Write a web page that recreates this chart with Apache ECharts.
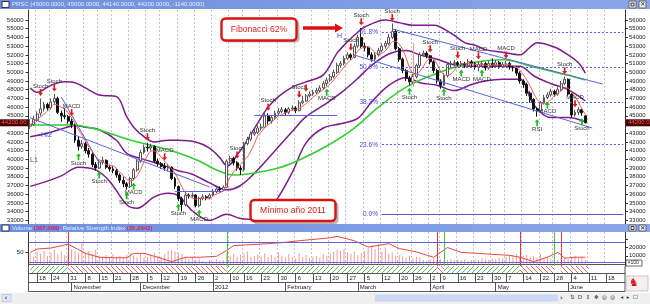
<!DOCTYPE html>
<html><head><meta charset="utf-8">
<script src="https://cdn.jsdelivr.net/npm/echarts@6/dist/echarts.min.js"></script>
<style>html,body{margin:0;padding:0;background:#fff}#c{width:650px;height:304px}</style>
</head><body><div id="c"></div>
<script>
// ---------- calendar ----------
const firstDay = '2011-10-13';
const totalSlots = 173;
const holidays = ['2011-10-17','2011-11-07','2011-11-14','2011-12-08','2012-01-09','2012-03-19','2012-04-05','2012-04-06','2012-05-01','2012-05-21'];
const tickDates = ['2011-10-18','2011-10-24','2011-10-31','2011-11-08','2011-11-15','2011-11-21','2011-11-28','2011-12-05','2011-12-12','2011-12-19','2011-12-26','2012-01-02','2012-01-10','2012-01-16','2012-01-23','2012-01-30','2012-02-06','2012-02-13','2012-02-20','2012-02-27','2012-03-05','2012-03-12','2012-03-20','2012-03-26','2012-04-02','2012-04-09','2012-04-16','2012-04-23','2012-04-30','2012-05-07','2012-05-14','2012-05-22','2012-05-28','2012-06-04','2012-06-11','2012-06-18'];
const monthTicks = [['2011-11-01','November'],['2011-12-01','December'],['2012-01-02','2012'],['2012-02-01','February'],['2012-03-01','March'],['2012-04-02','April'],['2012-05-02','May'],['2012-06-01','June']];

// ---------- price data [open, close, low, high] ----------
const candles = [
[43800,44000,43500,44600],[44000,44600,43900,45000],[44500,45200,44300,45500],[45300,45800,45000,47000],[45800,46300,45500,46600],
[46300,45900,45600,46500],[45900,46600,45700,47000],[46600,47000,46300,47500],[47000,45400,45200,47200],[45300,45000,44300,45600],
[45000,44900,44600,45900],[44900,44400,44100,45100],[44400,44000,43600,44700],[44000,42200,41900,44100],[42200,41500,41000,42600],
[41500,41800,41200,42200],[41800,41000,40700,42000],[41000,40600,40200,41300],[40600,39400,39100,40800],[39400,39000,38700,39700],
[39000,39700,38900,40000],[39700,39900,39400,40300],[39900,39100,38900,40000],[39100,38900,38600,39400],[38900,38700,38400,39200],
[38700,38200,37900,38900],[38200,37600,37300,38400],[37600,37200,36800,38000],[37200,36900,36500,37400],[36900,37800,36700,38000],
[37800,38800,37600,39000],[38800,39800,38600,40000],[39800,40800,39600,41100],[40800,41400,40600,41700],[41400,41300,40900,41900],
[41300,41500,41000,41800],[41500,39800,39600,41600],[39800,39500,39200,40100],[39500,39200,38900,39700],[39200,39000,38700,39600],
[39000,39100,38600,39500],[39100,37800,37600,39200],[37800,36900,36600,38000],[36900,35500,35200,37000],[35500,34800,34000,35700],
[34800,35900,34600,36300],[35900,35800,35500,36100],[35800,35900,35600,36200],[35900,34700,34500,36000],[34700,35500,34500,35700],
[35500,35700,35300,36000],[35700,35600,35300,35900],[35600,35900,35400,36100],[35900,36300,35800,36600],[36300,36600,36100,36800],
[36600,36500,36200,36900],[36500,36800,36400,37000],[36800,39800,36700,40000],[39800,40100,39500,40400],[40100,39600,39300,40300],
[39600,39000,38700,39800],[39000,38800,38200,39300],[38800,41800,38600,42000],[41800,42300,41600,42600],[42300,42900,42100,43200],
[42900,43100,42700,43500],[43100,43600,42900,43900],[43600,43700,43300,44100],[43700,45000,43600,45300],[45000,44400,44000,45300],
[44400,44800,44100,45100],[44800,45300,44600,45600],[45300,45500,45100,45900],[45500,45700,45300,46000],[45700,45400,45100,45900],
[45400,45800,45200,46000],[45800,45900,45600,46200],[45900,45600,45300,46100],[45600,46500,45500,46800],[46500,46700,46300,47300],
[46700,47300,46600,47500],[47300,47500,47100,47800],[47500,47700,47300,48000],[47700,47900,47500,48200],[47900,48200,47700,48500],
[48200,48700,48000,49000],[48700,49100,48400,49400],[49100,49500,48900,49800],[49500,50000,49300,50300],[50000,50800,49800,51100],
[50800,51000,50500,51300],[51000,51600,50800,51900],[51600,52000,51400,52300],[52000,51700,51400,52200],[51700,53000,51600,53300],
[53000,54000,52800,54300],[54000,53000,52800,55100],[53000,52800,52400,53400],[52800,52000,51700,53000],[52000,51500,51200,52300],
[51500,52000,51300,52300],[52000,52500,51800,52800],[52500,53000,52300,53300],[53000,53300,52700,53600],[53300,54000,53100,54400],
[54000,54700,53800,55600],[54700,52700,52500,54900],[52700,51500,51200,52900],[51500,50200,49900,51700],[50200,49300,49000,50400],
[49300,48900,48500,49600],[48900,49500,48700,49800],[49500,50800,49300,51000],[50800,52000,50600,52300],[52000,52200,51800,52500],
[52200,51900,51600,52400],[51900,51200,50900,52000],[51200,50200,49900,51400],[50200,49000,48700,50400],[49000,48500,48100,49200],
[48500,49600,48400,49900],[49600,50900,49400,51100],[50900,51000,50600,51300],[51000,51100,50700,51400],[51100,50900,50600,51300],
[50900,51000,50600,51300],[51000,50800,50500,51200],[50800,51200,50600,51500],[51200,51000,50700,51400],[51000,50600,50300,51200],
[50600,50900,50100,51200],[50900,51000,50600,51300],[51000,50500,50200,51200],[50500,51000,50300,51300],[51000,50800,50500,51600],
[50800,51100,50600,51400],[51100,50700,50400,51300],[50700,50900,50500,51200],[50900,51000,50600,51300],[51000,50600,50300,51200],
[50600,50500,50100,50800],[50500,49900,49600,50700],[49900,49000,48700,50100],[49000,48600,48200,49200],[48600,47600,47300,48800],
[47600,46900,46500,47800],[46900,45800,45500,47000],[45800,45600,44900,46000],[45600,46500,45400,46700],[46500,47100,46300,47400],
[47100,47400,46900,47700],[47400,47800,47200,48100],[47800,47500,47200,48000],[47500,48000,47300,48300],[48000,48700,47800,49000],
[48700,49200,48500,49500],[49200,47500,47300,49300],[47500,45100,44800,47600],[45100,45400,44900,45700],[45400,45700,45100,46000],
[45700,45340,45000,45800],[45000,44200,44140,45000]
];

// Bollinger bands (read at sample days) [dayIndex, value]
const ubPts = [[0,48200],[2,47700],[6,48500],[10,48900],[13,48800],[16,48200],[20,47400],[25,47200],[28,44900],[30,43700],[33,42600],[36,42000],[40,42200],[43,42200],[48,42000],[52,41300],[55,40200],[57,39300],[58,39400],[60,40500],[63,42200],[66,44200],[69,46000],[72,47200],[76,48300],[80,48900],[85,49700],[89,52200],[92,53500],[95,54600],[97,55200],[103,56000],[107,55700],[111,55400],[117,55400],[122,54500],[126,53400],[129,53100],[132,52600],[137,52300],[142,52000],[145,52900],[147,53400],[152,52900],[156,52000],[159,51100],[161,49900]];
const mbPts = [[0,42600],[5,43000],[10,43600],[13,43900],[16,43700],[20,43400],[25,42200],[28,40700],[33,40000],[38,39400],[43,38700],[47,38300],[52,37300],[57,36500],[61,37000],[66,38800],[71,41000],[76,43200],[80,44900],[85,46200],[90,47600],[95,49300],[99,50800],[104,52100],[109,52500],[113,52000],[118,51500],[123,50850],[128,50700],[132,50700],[137,50700],[142,50700],[146,49600],[151,48700],[156,48000],[161,46700]];
const lbPts = [[0,36900],[5,37500],[9,38100],[14,39100],[19,38800],[23,37500],[28,34800],[31,34400],[36,35700],[40,36100],[43,35800],[47,34100],[52,33000],[57,33700],[61,33200],[66,33100],[71,35100],[76,38500],[80,41900],[85,43600],[90,44100],[95,44700],[99,46600],[104,48500],[109,49400],[113,48800],[118,48500],[123,47900],[128,48600],[132,49000],[137,49200],[142,49200],[146,46300],[151,44800],[156,44800],[161,44300]];
const ma50Pts = [[0,43950],[12,43950],[20,43370],[29,42220],[38,41310],[43,40730],[49,39810],[54,38780],[59,38200],[65,38440],[72,39010],[78,39930],[86,41530],[94,43600],[101,46000],[109,48300],[118,49900],[128,51080],[137,51430],[146,50610],[156,49650],[161,49110]];

// signals
const sellSignals = [[3,'Stoch'],[7,'Stoch'],[12,'MACD'],[34,'Stoch'],[39,'MACD'],[60,'Stoch'],[69,'Stoch'],[78,'Stoch'],[80,''],[93,'Stoch'],[96,'Stoch'],[105,'Stoch'],[116,'Stoch'],[124,'Stoch'],[130,'MACD'],[138,'MACD'],[155,'Stoch'],[158,'MACD']];
const buySignals = [[14,'Stoch'],[20,'Stoch'],[28,'Stoch'],[30,'MACD'],[43,'Stoch'],[49,'MACD'],[86,'MACD'],[110,'Stoch'],[120,'Stoch'],[125,'MACD'],[131,'MACD'],[147,'RSI'],[150,'MACD'],[160,'Stoch']];

// drawn trend lines [[day, value],[day, value]]
const trendLines = [[[0,44770],[52,36830]],[[9,47160],[20,39590]],[[42,36300],[56,36300]],[[65,45100],[89,45100]],[[105,54970],[166,48650]],[[94,51980],[163,43600]]];
const markerLine = [[111,53360],[111,48300]];
// Fibonacci levels
const fibLevels = [[54590,'61.8%'],[50600,'50.0%'],[46610,'38.2%'],[41680,'23.6%'],[33730,'0.0%']];
const fibRange = [102,172];

// volume (x100) and RSI
const volume = [13000,9000,15000,12000,16000,10000,14000,17000,12000,15000,
11000,12000,18000,15000,13000,25000,14000,16000,12000,17000,
10000,9000,11000,8000,12000,9000,10000,8000,11000,13000,
10000,9000,12000,8000,9000,11000,14000,10000,9000,12000,
16000,17000,15000,13000,12000,8000,6000,9000,5000,7000,
4000,3000,5000,3000,6000,4000,5000,14000,10000,12000,
9000,11000,13000,15000,9000,10000,12000,9000,13000,8000,
11000,9000,14000,10000,8000,12000,9000,7000,13000,9000,
11000,7000,9000,10000,8000,12000,10000,13000,15000,17000,
16000,18000,14000,12000,15000,11000,13000,16000,19000,22000,
18000,24000,15000,20000,12000,14000,10000,11000,9000,8000,
10000,7000,9000,8000,5000,4000,6000,7000,5000,6000,
4000,5000,6000,5000,6000,5000,6000,4000,5000,6000,
5000,7000,6000,5000,7000,6000,8000,7000,9000,10000,
11000,12000,9000,10000,11000,9000,10000,8000,12000,7000,
9000,6000,8000,5000,7000,9000,6000,8000,10000,7000,
9000,6000];
const rsiPts = [[0,50],[2,57],[6,59],[11,67],[16,48],[20,40],[24,39],[28,39],[30,48],[33,48],[37,40],[41,31],[45,40],[49,40],[54,42],[57,54],[59,64],[64,66],[69,68],[73,70],[78,74],[87,80],[89,83],[94,74],[98,61],[104,68],[107,58],[112,51],[117,40],[121,60],[125,50],[130,48],[134,46],[139,44],[142,40],[146,31],[150,40],[153,50],[155,38],[158,40],[161,40]];
const rsiBands = [70,30];
const trendZones = [[0,11,'up'],[11,57,'down'],[57,118,'up'],[118,120,'down'],[120,142,'up'],[142,152,'down'],[154,162,'down']];
const signalLines = [[11,'down'],[57,'up'],[118,'down'],[120,'up'],[142,'down'],[152,'up'],[154,'down']];

const priceTicks = [33000,34000,35000,36000,37000,38000,39000,40000,41000,42000,43000,44000,45000,46000,47000,48000,49000,50000,51000,52000,53000,54000,55000,56000];

// ---------- build ----------
const hol = new Set(holidays);
const cats = [];
{ let d = new Date(firstDay + 'T00:00:00Z');
  while (cats.length < totalSlots) {
    const wd = d.getUTCDay(); const s = d.toISOString().slice(0,10);
    if (wd !== 0 && wd !== 6 && !hol.has(s)) cats.push(s);
    d.setUTCDate(d.getUTCDate() + 1);
  } }
const tickSet = new Set(tickDates.map(d => cats.indexOf(d)));
const monthMap = new Map(monthTicks.map(m => [cats.indexOf(m[0]), m[1]]));
const closes = candles.map(c => c[1]);
const ma5 = closes.map((c, i) => { const s = closes.slice(Math.max(0, i - 4), i + 1); return Math.round(s.reduce((a, b) => a + b, 0) / s.length); });
const lastClose = closes[closes.length - 1];
const plain = (v) => String(v);

function hatch(color, dir) {
  const c = document.createElement('canvas'); c.width = 5; c.height = 5;
  const g = c.getContext('2d'); g.fillStyle = '#fff'; g.fillRect(0, 0, 5, 5);
  g.strokeStyle = color; g.lineWidth = 1; g.beginPath();
  if (dir > 0) { g.moveTo(-1, 6); g.lineTo(6, -1); g.moveTo(-3, 3); g.lineTo(3, -3); g.moveTo(2, 8); g.lineTo(8, 2); }
  else { g.moveTo(-1, -1); g.lineTo(6, 6); g.moveTo(-3, 2); g.lineTo(3, 8); g.moveTo(2, -3); g.lineTo(8, 3); }
  g.stroke(); return c;
}
const upPat = { image: hatch('#58c058', 1), repeat: 'repeat' };
const dnPat = { image: hatch('#e06a6a', -1), repeat: 'repeat' };

const FONT = 'Liberation Sans';
const L = 28.5, R = 25;
const splitDash = { show: true, interval: (i) => tickSet.has(i), lineStyle: { color: '#c4c4c4', type: [2, 2], width: 1 } };

const upArrow = 'path://M3,0 L6,4 L4,4 L4,9 L2,9 L2,4 L0,4 Z';
const dnArrow = 'path://M2,0 L4,0 L4,5 L6,5 L3,9 L0,5 L2,5 Z';

const option = {
  animation: false,
  backgroundColor: '#ffffff',
  textStyle: { fontFamily: FONT },
  grid: [
    { left: L, right: R, top: 10, height: 214 },
    { left: L, right: R, top: 232, height: 34 },
    { left: L, right: R, top: 266, height: 7 }
  ],
  xAxis: [
    { gridIndex: 0, type: 'category', data: cats, boundaryGap: true, axisLine: { show: false }, axisTick: { show: false }, axisLabel: { show: false }, splitLine: splitDash },
    { gridIndex: 1, type: 'category', data: cats, boundaryGap: true, axisLine: { show: true, lineStyle: { color: '#555' } }, axisTick: { show: false }, axisLabel: { show: false }, splitLine: splitDash },
    { gridIndex: 2, type: 'category', data: cats, boundaryGap: true, position: 'bottom',
      axisLine: { show: true, lineStyle: { color: '#555' } },
      axisTick: { show: true, interval: (i) => tickSet.has(i), alignWithLabel: true, length: 9, lineStyle: { color: '#555' } },
      axisLabel: { show: true, interval: (i) => tickSet.has(i), formatter: (v) => String(+v.slice(8)), fontSize: 6, color: '#222', align: 'left', margin: 2, padding: [0, 0, 0, 2], fontFamily: FONT },
      splitLine: { show: false } },
    { gridIndex: 2, type: 'category', data: cats, boundaryGap: true, position: 'bottom', offset: 9,
      axisLine: { show: true, lineStyle: { color: '#555' } },
      axisTick: { show: true, interval: (i) => monthMap.has(i), alignWithLabel: true, length: 9, lineStyle: { color: '#555' } },
      axisLabel: { show: true, interval: (i) => monthMap.has(i), formatter: (v) => monthMap.get(cats.indexOf(v)) || '', fontSize: 6, color: '#222', align: 'left', margin: 2, padding: [0, 0, 0, 2], fontFamily: FONT },
      splitLine: { show: false } }
  ],
  yAxis: [
    { gridIndex: 0, position: 'left', min: 32580, max: 57150, axisLine: { show: true, lineStyle: { color: '#333' } },
      axisTick: { show: true, customValues: priceTicks, length: 3, lineStyle: { color: '#333' } },
      axisLabel: { customValues: priceTicks, formatter: plain, fontSize: 6, color: '#222', margin: 5, fontFamily: FONT }, splitLine: { show: false } },
    { gridIndex: 0, position: 'right', min: 32580, max: 57150, axisLine: { show: true, lineStyle: { color: '#333' } },
      axisTick: { show: true, customValues: priceTicks, length: 3, lineStyle: { color: '#333' } },
      axisLabel: { customValues: priceTicks, formatter: plain, fontSize: 6, color: '#222', margin: 4, fontFamily: FONT }, splitLine: { show: false } },
    { gridIndex: 1, position: 'left', min: 22, max: 92, axisLine: { show: true, lineStyle: { color: '#333' } },
      axisTick: { show: true, customValues: [50], length: 3 }, axisLabel: { customValues: [50], formatter: plain, fontSize: 6, color: '#223', margin: 5 }, splitLine: { show: false } },
    { gridIndex: 1, position: 'right', min: -2000, max: 38000, axisLine: { show: true, lineStyle: { color: '#333' } },
      axisTick: { show: true, customValues: [10000, 20000, 30000], length: 3 }, axisLabel: { customValues: [10000, 20000], formatter: plain, fontSize: 6, color: '#222', margin: 4 }, splitLine: { show: false } },
    { gridIndex: 2, min: 0, max: 1, show: false }
  ],
  series: [
    { type: 'line', name: 'UB', xAxisIndex: 0, yAxisIndex: 0, data: ubPts, smooth: 0.35, showSymbol: false, connectNulls: true, lineStyle: { color: '#7d1a8e', width: 1.5 }, z: 2 },
    { type: 'line', name: 'MB', xAxisIndex: 0, yAxisIndex: 0, data: mbPts, smooth: 0.35, showSymbol: false, lineStyle: { color: '#7d1a8e', width: 1.5 }, z: 2 },
    { type: 'line', name: 'LB', xAxisIndex: 0, yAxisIndex: 0, data: lbPts, smooth: 0.35, showSymbol: false, lineStyle: { color: '#7d1a8e', width: 1.5 }, z: 2 },
    { type: 'line', name: 'MA50', xAxisIndex: 0, yAxisIndex: 0, data: ma50Pts, smooth: 0.35, showSymbol: false, lineStyle: { color: '#2fd02f', width: 1.6 }, z: 2 },
    { type: 'line', name: 'annot', xAxisIndex: 0, yAxisIndex: 0, data: [], z: 3,
      markLine: { silent: true, symbol: ['none', 'none'], animation: false,
        data: [
          ...trendLines.map(t => [{ coord: t[0], lineStyle: { color: '#5a63e0', width: 1, type: 'solid' }, label: { show: false } }, { coord: t[1] }]),
          [{ coord: markerLine[0], lineStyle: { color: '#f09090', width: 1, type: 'solid' }, label: { show: false } }, { coord: markerLine[1] }],
          ...fibLevels.map(f => [{ coord: [fibRange[0], f[0]], lineStyle: { color: '#5a5ae0', width: 1, type: f[1] === '0.0%' ? 'solid' : [2, 2] },
            label: { show: true, position: 'start', formatter: f[1], color: '#4a4ad8', fontSize: 6.5, distance: 4, fontFamily: FONT } }, { coord: [fibRange[1], f[0]] }])
        ] } },
    { type: 'candlestick', name: 'PRSC', xAxisIndex: 0, yAxisIndex: 0, data: candles, barWidth: 2.4, z: 4,
      itemStyle: { color: '#ffffff', color0: '#111111', borderColor: '#555555', borderColor0: '#111111', borderWidth: 1 },
      markLine: { silent: true, symbol: ['none', 'none'], animation: false, lineStyle: { color: 'rgba(0,0,0,0)', width: 0 },
        data: [
          { yAxis: lastClose, label: { show: true, position: 'end', distance: 1, formatter: lastClose.toFixed(2), color: '#ff5a5a', backgroundColor: '#4a0000', padding: [1, 2, 0, 2], fontSize: 6, fontFamily: FONT } },
          { yAxis: lastClose, label: { show: true, position: 'start', distance: 0, formatter: lastClose.toFixed(2), color: '#ff5a5a', backgroundColor: '#4a0000', padding: [1, 2, 0, 2], fontSize: 6, fontFamily: FONT } }
        ] } },
    { type: 'line', name: 'MA5', xAxisIndex: 0, yAxisIndex: 0, data: ma5, smooth: 0.3, showSymbol: false, lineStyle: { color: '#e85a5a', width: 1 }, z: 5 },
    { type: 'scatter', name: 'sell', xAxisIndex: 0, yAxisIndex: 0, z: 6,
      data: sellSignals.map(s => ({ value: [s[0], candles[s[0]][3]], label: { formatter: s[1] } })),
      symbol: dnArrow, symbolSize: [5, 7], symbolOffset: [0, -6], itemStyle: { color: '#e01818', opacity: 1 },
      label: { show: true, position: 'top', distance: 0, fontSize: 6, color: '#333', fontFamily: FONT } },
    { type: 'scatter', name: 'buy', xAxisIndex: 0, yAxisIndex: 0, z: 6,
      data: buySignals.map(s => ({ value: [s[0], candles[s[0]][2]], label: { formatter: s[1] } })),
      symbol: upArrow, symbolSize: [5, 7], symbolOffset: [0, 6], itemStyle: { color: '#18c018', opacity: 1 },
      label: { show: true, position: 'bottom', distance: 0, fontSize: 6, color: '#333', fontFamily: FONT } },
    { type: 'bar', name: 'Volume', xAxisIndex: 1, yAxisIndex: 3, data: volume, barWidth: 1, itemStyle: { color: '#f29a9a' }, z: 2,
      markLine: { silent: true, symbol: ['none', 'none'], animation: false, label: { show: false },
        data: signalLines.map(s => ({ xAxis: s[0], lineStyle: { color: s[1] === 'up' ? '#40d040' : '#e03838', width: 1, type: 'solid' } })) } },
    { type: 'line', name: 'RSI', xAxisIndex: 1, yAxisIndex: 2, data: rsiPts, showSymbol: false, lineStyle: { color: '#e84848', width: 1 }, z: 3,
      markLine: { silent: true, symbol: ['none', 'none'], animation: false, label: { show: false },
        data: rsiBands.map(v => ({ yAxis: v, lineStyle: { color: '#6262e0', width: 1, type: 'solid' } })) } },
    { type: 'line', name: 'trend', xAxisIndex: 2, yAxisIndex: 4, data: [], z: 1,
      markArea: { silent: true, data: trendZones.map(z => [{ xAxis: z[0], itemStyle: { color: z[2] === 'up' ? upPat : dnPat } }, { xAxis: z[1] }]) } }
  ],
  graphic: [
    { type: 'rect', z: 100, shape: { x: 0, y: 0, width: 650, height: 9 }, style: { fill: new echarts.graphic.LinearGradient(0, 0, 1, 0, [{ offset: 0, color: '#6f8fdc' }, { offset: 1, color: '#8aa6e8' }]) } },
    { type: 'rect', z: 101, shape: { x: 2, y: 1.5, width: 7, height: 6 }, style: { fill: '#ffffff', stroke: '#334', lineWidth: 1 } },
    { type: 'text', z: 101, x: 12, y: 1.5, style: { text: 'PRSC (45000.0000, 45000.0000, 44140.0000, 44200.0000, -1140.0000)', fill: '#e6ecff', font: '6px "Liberation Sans"' } },
    { type: 'rect', z: 101, shape: { x: 629, y: 1, width: 7, height: 7 }, style: { fill: '#e8e8e8', stroke: '#555', lineWidth: 0.8 } },
    { type: 'rect', z: 101, shape: { x: 639, y: 1, width: 7, height: 7 }, style: { fill: '#e8e8e8', stroke: '#555', lineWidth: 0.8 } },
    { type: 'text', z: 102, x: 640.2, y: 1.5, style: { text: '✕', fill: '#222', font: '6px "DejaVu Sans"' } },
    { type: 'rect', z: 102, shape: { x: 631, y: 3, width: 3, height: 3 }, style: { fill: 'none', stroke: '#222', lineWidth: 0.8 } },

    { type: 'rect', z: 100, shape: { x: 0, y: 224, width: 650, height: 8 }, style: { fill: new echarts.graphic.LinearGradient(0, 0, 1, 0, [{ offset: 0, color: '#6f8fdc' }, { offset: 1, color: '#8aa6e8' }]) } },
    { type: 'rect', z: 101, shape: { x: 2, y: 225, width: 7, height: 6 }, style: { fill: '#ffffff', stroke: '#334', lineWidth: 1 } },
    { type: 'text', z: 101, x: 12, y: 225, style: { text: '{w|Volume }{r|(367,098)}{w|, Relative Strength Index }{r|(35,2842)}', rich: { w: { fill: '#e6ecff', font: '6px "Liberation Sans"' }, r: { fill: '#d8205a', font: 'bold 6px "Liberation Sans"' } } } },
    { type: 'rect', z: 101, shape: { x: 629, y: 225, width: 7, height: 6 }, style: { fill: '#e8e8e8', stroke: '#555', lineWidth: 0.8 } },
    { type: 'rect', z: 101, shape: { x: 639, y: 225, width: 7, height: 6 }, style: { fill: '#e8e8e8', stroke: '#555', lineWidth: 0.8 } },
    { type: 'text', z: 102, x: 640.2, y: 225, style: { text: '✕', fill: '#222', font: '6px "DejaVu Sans"' } },
    { type: 'rect', z: 102, shape: { x: 631, y: 226.5, width: 3, height: 3 }, style: { fill: 'none', stroke: '#222', lineWidth: 0.8 } },
    { type: 'rect', z: 101, shape: { x: 626, y: 260, width: 16, height: 6 }, style: { fill: '#ffffff', stroke: '#444', lineWidth: 0.8 } },
    { type: 'text', z: 102, x: 627.5, y: 260.5, style: { text: '×100', fill: '#222', font: '5px "Liberation Sans"' } },

    { type: 'line', z: 50, shape: { x1: L, y1: 291.5, x2: 625, y2: 291.5 }, style: { stroke: '#555', lineWidth: 1 } },
    { type: 'line', z: 50, shape: { x1: L, y1: 266, x2: L, y2: 291.5 }, style: { stroke: '#555', lineWidth: 1 } },
    { type: 'line', z: 50, shape: { x1: 625, y1: 266, x2: 625, y2: 291.5 }, style: { stroke: '#555', lineWidth: 1 } },
    { type: 'rect', z: 50, shape: { x: 626, y: 276, width: 22, height: 15 }, style: { fill: '#f6eeee', stroke: '#bbb', lineWidth: 0.8 } },
    { type: 'text', z: 51, x: 629, y: 278, style: { text: '♞', fill: '#d01818', font: '11px "DejaVu Sans"' } },

    { type: 'rect', z: 50, shape: { x: 0, y: 293, width: 650, height: 11 }, style: { fill: '#efefef' } },
    { type: 'rect', z: 51, shape: { x: 2, y: 294.5, width: 9, height: 7 }, style: { fill: '#dfe8f8', stroke: '#b8c4dc', lineWidth: 0.8 } },
    { type: 'text', z: 52, x: 4.5, y: 294.5, style: { text: '‹', fill: '#2a48a8', font: 'bold 7px "DejaVu Sans"' } },
    { type: 'rect', z: 51, shape: { x: 375, y: 294.5, width: 183, height: 7 }, style: { fill: '#c9d8f4' } },
    { type: 'text', z: 52, x: 560, y: 294.5, style: { text: '›', fill: '#2a48a8', font: 'bold 7px "DejaVu Sans"' } },
    { type: 'text', z: 52, x: 570, y: 295, style: { text: '⇅  D  ⇕  ✥  ◎  ◎   ◂  ▸  ☐', fill: '#333', font: '5.5px "DejaVu Sans"' } },

    { type: 'text', z: 60, x: 337, y: 33, style: { text: 'H', fill: '#3848d0', font: '7px "Liberation Sans"' } },
    { type: 'text', z: 60, x: 30, y: 157, style: { text: 'L1', fill: '#3848d0', font: '7px "Liberation Sans"' } },
    { type: 'text', z: 60, x: 41, y: 132, style: { text: 'HI2', fill: '#3848d0', font: '7px "Liberation Sans"' } },

    { type: 'rect', z: 70, shape: { x: 223.5, y: 20.5, width: 76, height: 22, r: 4 }, style: { fill: '#b9b9b9' } },
    { type: 'rect', z: 71, shape: { x: 221.5, y: 18.5, width: 75, height: 22, r: 4 }, style: { fill: '#ffffff', stroke: '#e01010', lineWidth: 2.4 } },
    { type: 'text', z: 72, x: 259, y: 29.8, style: { text: 'Fibonacci 62%', fill: '#e01818', font: '8.6px "Liberation Sans"', align: 'center', verticalAlign: 'middle' } },
    { type: 'polygon', z: 72, shape: { points: [[303, 26.3], [335, 26.3], [335, 23.5], [343, 28], [335, 32.5], [335, 29.7], [303, 29.7]] }, style: { fill: '#e01010' } },

    { type: 'rect', z: 70, shape: { x: 252.5, y: 202, width: 86, height: 22, r: 4 }, style: { fill: '#b9b9b9' } },
    { type: 'rect', z: 71, shape: { x: 250.5, y: 200, width: 85, height: 21, r: 4 }, style: { fill: '#ffffff', stroke: '#e01010', lineWidth: 2.4 } },
    { type: 'text', z: 72, x: 293, y: 210.8, style: { text: 'Mínimo año 2011', fill: '#e01818', font: '8.6px "Liberation Sans"', align: 'center', verticalAlign: 'middle' } }
  ]
};
const chart = echarts.init(document.getElementById('c'), null, { renderer: 'canvas', width: 650, height: 304 });
chart.setOption(option);
</script>
</body></html>
